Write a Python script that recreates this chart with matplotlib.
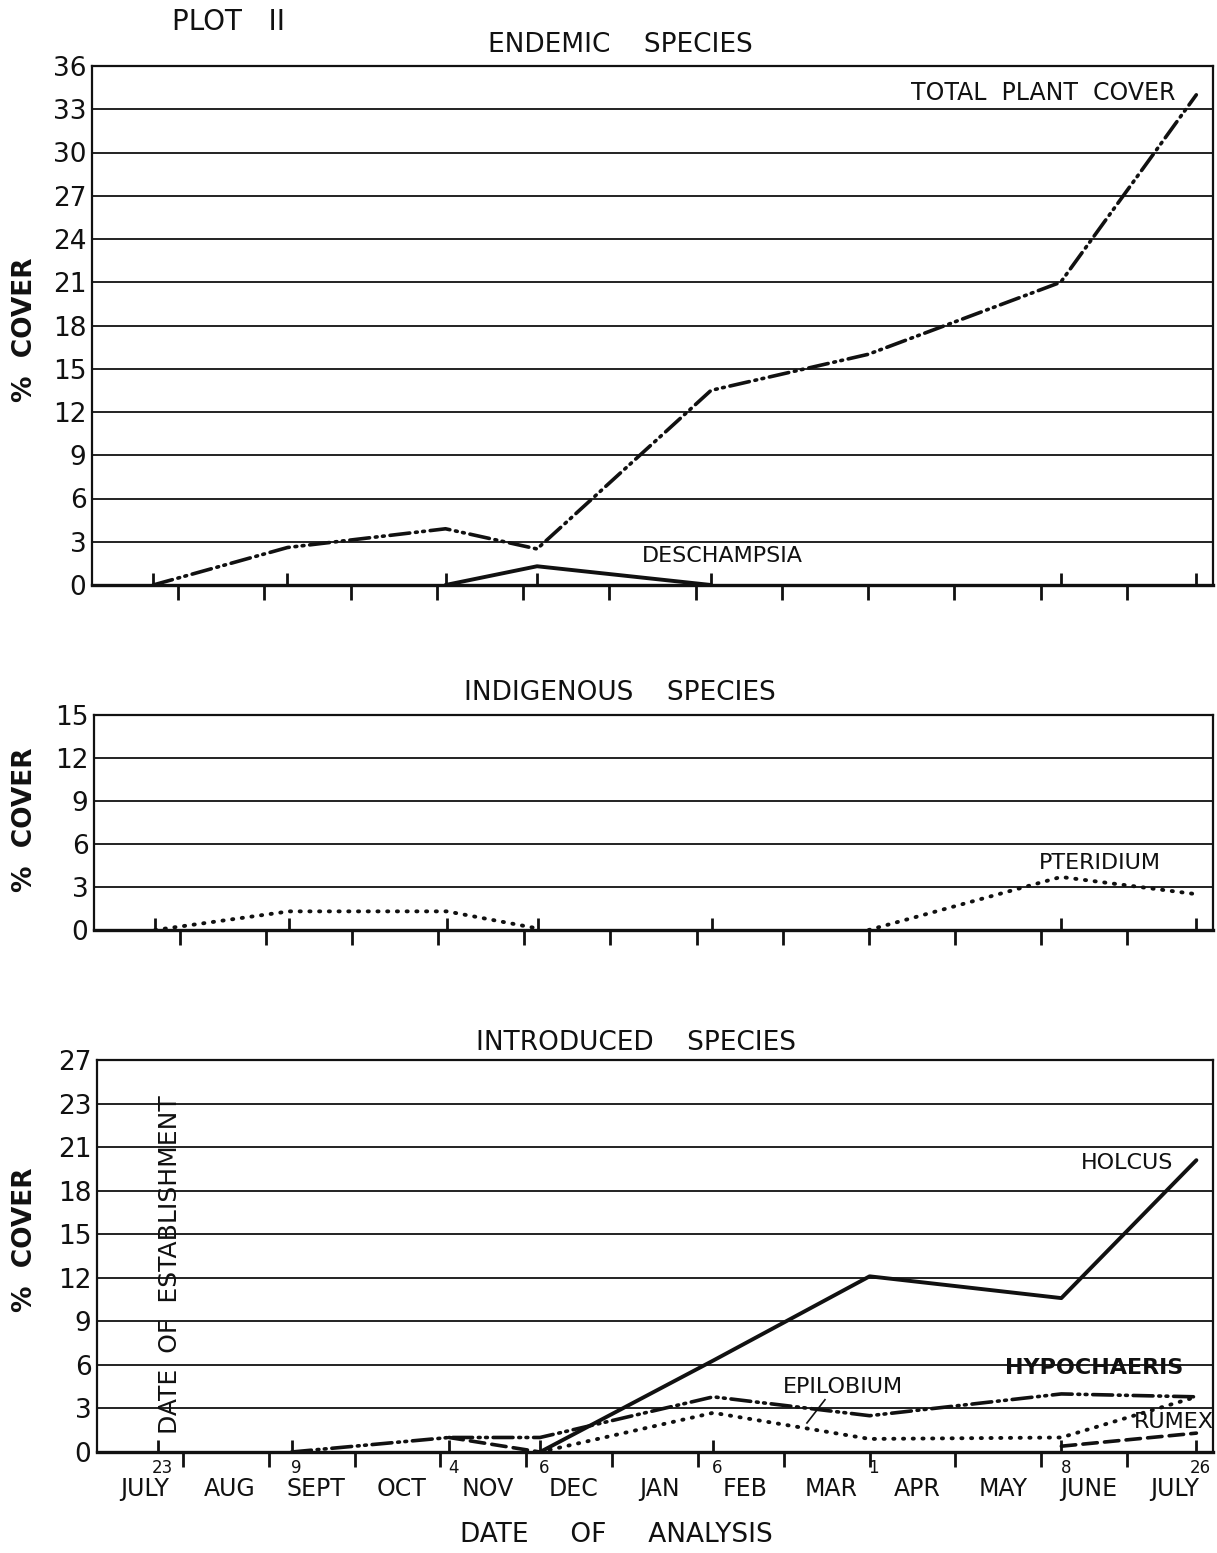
import numpy as np
import matplotlib
matplotlib.use("Agg")
import matplotlib.pyplot as plt
from matplotlib import transforms

plt.rcParams['font.family'] = ['DejaVu Sans']

# ---------------- data ----------------
month_names = ["JULY", "AUG", "SEPT", "OCT", "NOV", "DEC", "JAN", "FEB",
               "MAR", "APR", "MAY", "JUNE", "JULY"]
month_lengths = [31, 31, 30, 31, 30, 31, 31, 28, 31, 30, 31, 30, 31]

# sampling dates: index of month (0 = first July) and day of month
sample_month_idx = [0, 2, 4, 5, 7, 9, 11, 12]
sample_day = [23, 9, 4, 6, 6, 1, 8, 26]

nan = np.nan
# Endemic species
total_cover = [0.0, 2.6, 3.9, 2.5, 13.5, 16.0, 21.0, 34.0]
deschampsia = [nan, nan, 0.0, 1.3, 0.0, nan, nan, nan]
# Indigenous species
pteridium = [0.0, 1.3, 1.3, 0.1, nan, 0.0, 3.7, 2.5]
# Introduced species
holcus = [nan, nan, nan, 0.0, 6.3, 12.1, 10.6, 20.1]
hypochaeris = [nan, 0.0, 1.0, 1.0, 3.8, 2.5, 4.0, 3.8]
epilobium = [nan, nan, nan, 0.0, 2.7, 0.9, 1.0, 3.8]
rumex = [nan, nan, 1.0, 0.0, nan, nan, 0.4, 1.3]

top_ticks = list(range(0, 37, 3))
mid_ticks = list(range(0, 16, 3))
bot_ticks = list(range(0, 28, 3))
bot_labels = ["0", "3", "6", "9", "12", "15", "18", "21", "23", "27"]

# ---------------- helpers ----------------
x_dates = np.array([m + (d - 1) / month_lengths[m]
                    for m, d in zip(sample_month_idx, sample_day)])
month_bounds = np.arange(1, 13)
XMAX = 13.0

W, H = 1217, 1553
fig = plt.figure(figsize=(W / 100, H / 100), dpi=100)


def px_axes(left, top, right, bottom):
    return fig.add_axes([left / W, 1 - bottom / H, (right - left) / W,
                         (bottom - top) / H])


ink = "#111111"
DASHDOTDOT = (0, (5.5, 1.6, 0.5, 1.5, 0.5, 1.6))
DOTTED = (0, (0.3, 2.2))
DASHED = (0, (4.0, 2.0))


def style_axes(ax, ymax, ticks, labels=None):
    ax.set_xlim(0, XMAX)
    ax.set_ylim(0, ymax)
    ax.set_yticks(ticks)
    ax.set_yticklabels(labels if labels else [str(t) for t in ticks],
                       fontsize=19)
    for t in ticks:
        if 0 < t < ymax:
            ax.axhline(t, color=ink, lw=1.3, zorder=1)
    for s in ax.spines.values():
        s.set_color(ink)
        s.set_linewidth(1.6)
    ax.spines['bottom'].set_linewidth(2.4)
    ax.tick_params(axis='y', length=0, pad=4, colors=ink)
    # month boundaries: outward ticks
    ax.set_xticks(month_bounds)
    ax.set_xticklabels([])
    ax.tick_params(axis='x', which='major', direction='out', length=11,
                   width=2, colors=ink)
    # sample dates: inward ticks
    ax.set_xticks(x_dates, minor=True)
    ax.tick_params(axis='x', which='minor', direction='in', length=9,
                   width=2, colors=ink)


def line(ax, y, ls, lw=2.6):
    ax.plot(x_dates, y, color=ink, lw=lw, linestyle=ls,
            dash_capstyle='round', solid_capstyle='round', zorder=3,
            clip_on=False)


# ---------------- top panel ----------------
ax1 = px_axes(92, 66, 1213, 585)
style_axes(ax1, 36, top_ticks)
line(ax1, total_cover, DASHDOTDOT)
line(ax1, deschampsia, '-', lw=2.8)
ax1.text(12.56, 34.1, "TOTAL  PLANT  COVER", ha='right', va='center',
         fontsize=17, color=ink)
ax1.text(7.31, 2.0, "DESCHAMPSIA", ha='center', va='center', fontsize=16,
         color=ink)

# ---------------- middle panel ----------------
ax2 = px_axes(94, 715, 1213, 930)
style_axes(ax2, 15, mid_ticks)
line(ax2, pteridium, DOTTED, lw=2.8)
ax2.text(11.68, 4.7, "PTERIDIUM", ha='center', va='center', fontsize=16,
         color=ink)

# ---------------- bottom panel ----------------
ax3 = px_axes(97, 1060, 1213, 1452)
style_axes(ax3, 27, bot_ticks, bot_labels)
line(ax3, holcus, '-', lw=2.8)
line(ax3, hypochaeris, DASHDOTDOT)
line(ax3, epilobium, DOTTED, lw=2.8)
line(ax3, rumex, DASHED)
ax3.text(12.0, 19.9, "HOLCUS", ha='center', va='center', fontsize=16,
         color=ink)
ax3.text(11.62, 5.8, "HYPOCHAERIS", ha='center', va='center', fontsize=16,
         color=ink, fontweight='bold')
ax3.text(8.69, 4.5, "EPILOBIUM", ha='center', va='center', fontsize=16,
         color=ink)
ax3.plot([8.48, 8.27], [3.6, 2.0], color=ink, lw=1.2)
ax3.text(12.54, 2.1, "RUMEX", ha='center', va='center', fontsize=16,
         color=ink)
ax3.text(0.85, 12.9, "DATE  OF  ESTABLISHMENT", rotation=90, ha='center',
         va='center', fontsize=18, color=ink)

# month and day labels under the bottom panel
trans = transforms.blended_transform_factory(ax3.transData, ax3.transAxes)
for i, name in enumerate(month_names):
    ax3.text(i + 0.55, -0.095, name, transform=trans, ha='center',
             va='center', fontsize=17, color=ink)
for xd, d in zip(x_dates, sample_day):
    ax3.text(xd + 0.05, -0.04, str(d), transform=trans, ha='center',
             va='center', fontsize=12, color=ink)

# ---------------- figure texts ----------------
fig.text(228 / W, 1 - 22 / H, "PLOT   II", ha='center', va='center',
         fontsize=20, color=ink)
fig.text(620 / W, 1 - 45 / H, "ENDEMIC    SPECIES", ha='center',
         va='center', fontsize=19, color=ink)
fig.text(620 / W, 1 - 693 / H, "INDIGENOUS    SPECIES", ha='center',
         va='center', fontsize=19, color=ink)
fig.text(636 / W, 1 - 1043 / H, "INTRODUCED    SPECIES", ha='center',
         va='center', fontsize=19, color=ink)
fig.text(616 / W, 1 - 1535 / H, "DATE     OF     ANALYSIS", ha='center',
         va='center', fontsize=19, color=ink)
for yc in (330, 820, 1240):
    fig.text(25 / W, 1 - yc / H, "%  COVER", rotation=90, ha='center',
             va='center', fontsize=19, color=ink, fontweight='bold')

fig.savefig("out.png", dpi=100)
